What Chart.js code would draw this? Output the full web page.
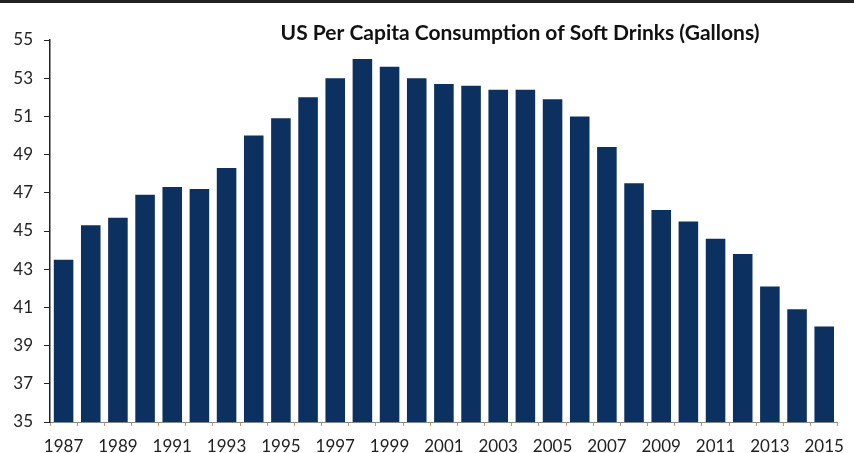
<!DOCTYPE html>
<html>
<head>
<meta charset="utf-8">
<script src="https://cdn.jsdelivr.net/npm/chart.js@4"></script>
<style>
  html, body { margin: 0; padding: 0; background: #fff; }
  #wrap { width: 854px; height: 453px; position: relative; }
</style>
</head>
<body>
<div id="wrap"><canvas id="sodaChart"></canvas></div>
<script>
const years = ['1987','1988','1989','1990','1991','1992','1993','1994','1995','1996',
  '1997','1998','1999','2000','2001','2002','2003','2004','2005','2006',
  '2007','2008','2009','2010','2011','2012','2013','2014','2015'];
const gallons = [43.5, 45.3, 45.7, 46.9, 47.3, 47.2, 48.3, 50.0, 50.9, 52.0,
  53.0, 54.0, 53.6, 53.0, 52.7, 52.6, 52.4, 52.4, 51.9, 51.0,
  49.4, 47.5, 46.1, 45.5, 44.6, 43.8, 42.1, 40.9, 40.0];
const chartTitle = 'US Per Capita Consumption of Soft Drinks (Gallons)';

const fontFamily = 'Lato, "Open Sans", sans-serif';

// title sits inside the plot, off-centre, plus the black rule at the very top
const decorPlugin = {
  id: 'decor',
  afterDraw(chart) {
    const c = chart.ctx;
    c.save();
    c.fillStyle = '#222';
    c.fillRect(0, 0, chart.width, 3);
    c.font = 'bold 21px ' + fontFamily;
    c.fillStyle = '#111';
    c.textAlign = 'center';
    c.textBaseline = 'middle';
    c.fillText(chartTitle, 520, 33);
    c.restore();
  }
};

var ctx = document.getElementById('sodaChart').getContext('2d');
var sodaChart = new Chart(ctx, {
  type: 'bar',
  data: {
    labels: years,
    datasets: [{
      label: 'Gallons',
      data: gallons,
      backgroundColor: '#0c305f',
      barPercentage: 0.72,
      categoryPercentage: 1.0
    }]
  },
  options: {
    responsive: true,
    maintainAspectRatio: false,
    animation: false,
    layout: { padding: { top: 40, right: 4, left: 0, bottom: 0 } },
    plugins: {
      legend: { display: false },
      title: { display: false },
      tooltip: { enabled: false }
    },
    scales: {
      x: {
        offset: true,
        afterFit(scale) { scale.height = 31; },
        grid: {
          drawOnChartArea: false,
          offset: true,
          tickLength: 4,
          color: '#c49a6c'
        },
        border: { color: '#888', width: 1 },
        ticks: {
          autoSkip: false,
          maxRotation: 0,
          padding: 10,
          color: '#222',
          font: { family: fontFamily, size: 17 },
          callback(value, index) {
            return index % 2 === 0 ? years[index] : '';
          }
        }
      },
      y: {
        min: 35,
        max: 55,
        afterFit(scale) { scale.width = 50; },
        grid: {
          drawOnChartArea: false,
          tickLength: 6,
          color: '#222'
        },
        border: { color: '#222', width: 1.5 },
        ticks: {
          stepSize: 2,
          padding: 11,
          color: '#222',
          font: { family: fontFamily, size: 17 }
        }
      }
    }
  },
  plugins: [decorPlugin]
});
</script>
</body>
</html>
